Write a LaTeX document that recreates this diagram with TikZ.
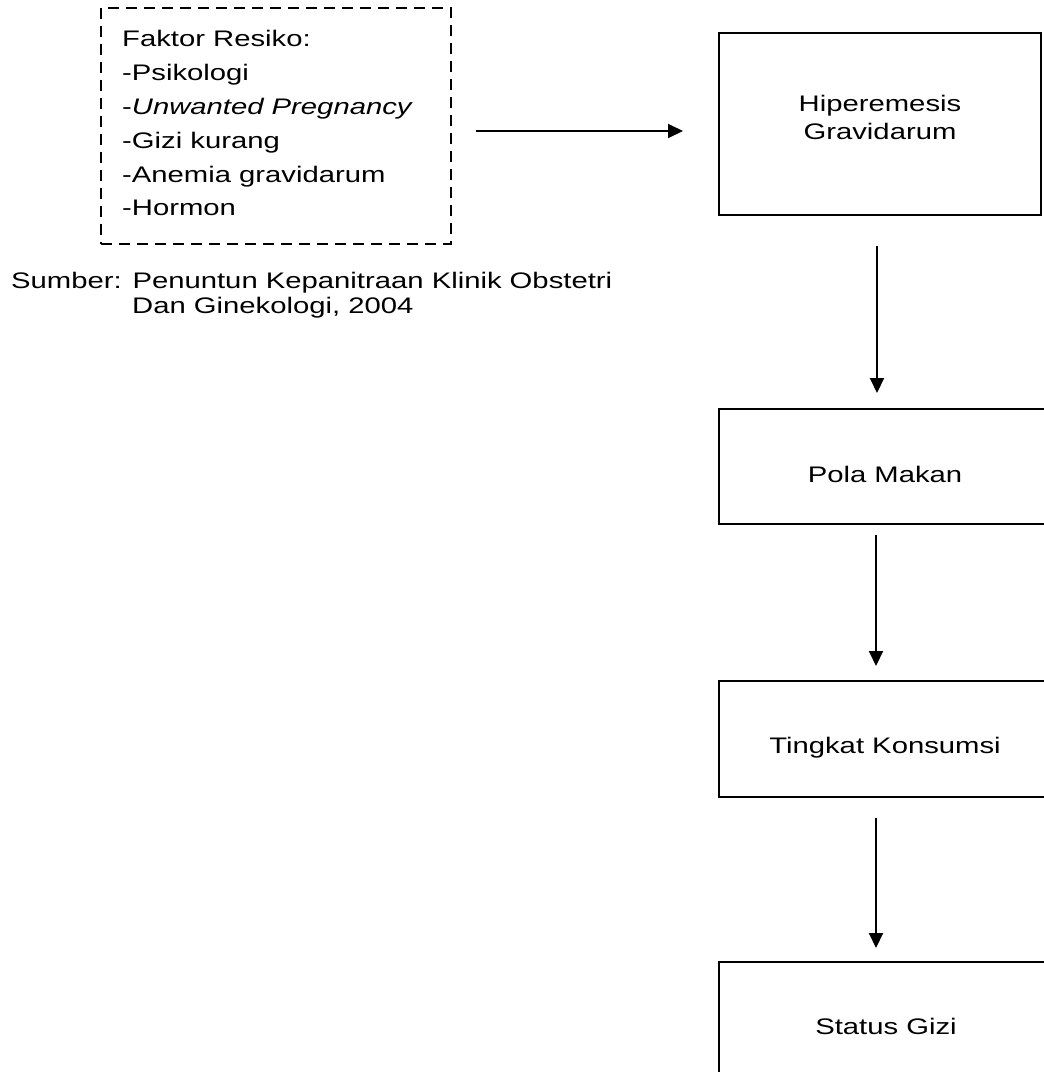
\documentclass[tikz,border=0pt]{standalone}
\usepackage{fontspec}
\setmainfont[FakeStretch=1.3]{Liberation Sans}
\usetikzlibrary{arrows.meta}
\begin{document}
\begin{tikzpicture}[x=1pt,y=-1pt,
  txt/.style={inner sep=0pt, font=\fontsize{22.5}{27}\selectfont},
  flowbox/.style={draw, line width=1.8pt, inner sep=0pt},
  riskbox/.style={draw, line width=1.8pt, dash pattern=on 11pt off 7pt, inner sep=0pt},
  conn/.style={line width=2pt, -{Triangle[length=15pt,width=14pt]}}]
\useasboundingbox (0,0) rectangle (1044,1072);
\clip (0,0) rectangle (1044,1072);
\fill[white] (0,0) rectangle (1044,1072);
% dashed risk box
\node[riskbox, minimum width=350pt, minimum height=236pt] (risk) at (276,126) {};
\node[txt, anchor=base west] (r1) at (122,46) {Faktor Resiko:};
\node[txt, anchor=base west] (r2) at (122,80) {-Psikologi};
\node[txt, anchor=base west] (r3) at (122,114) {-\textit{Unwanted Pregnancy}};
\node[txt, anchor=base west] (r4) at (122,148) {-Gizi kurang};
\node[txt, anchor=base west] (r5) at (122,182) {-Anemia gravidarum};
\node[txt, anchor=base west] (r6) at (122,215) {-Hormon};
% source
\node[txt, anchor=base west] (s1) at (11,288) {Sumber: Penuntun Kepanitraan Klinik Obstetri};
\node[txt, anchor=base west] (s2) at (132,313) {Dan Ginekologi, 2004};
% flow boxes
\node[flowbox, minimum width=322pt, minimum height=182pt] (hip) at (880,124) {};
\node[txt, align=center] (hipt) at (880,117) {Hiperemesis\\[1pt]Gravidarum};
\node[flowbox, minimum width=334pt, minimum height=115pt] (pola) at (886,466.5) {};
\node[txt, anchor=base] (polat) at (885,482) {Pola Makan};
\node[flowbox, minimum width=334pt, minimum height=116pt] (ting) at (886,739) {};
\node[txt, anchor=base] (tingt) at (885,753) {Tingkat Konsumsi};
\node[flowbox, minimum width=334pt, minimum height=116pt] (stat) at (886,1020) {};
\node[txt, anchor=base] (statt) at (886,1034) {Status Gizi};
% connectors
\coordinate (h1) at (476,131);
\coordinate (h2) at (683,131);
\draw[conn] (h1) -- (h2);
\coordinate (v1a) at (877,246);
\coordinate (v1b) at (877,393);
\draw[conn] (v1a) -- (v1b);
\coordinate (v2a) at (876,535);
\coordinate (v2b) at (876,666);
\draw[conn] (v2a) -- (v2b);
\coordinate (v3a) at (876,818);
\coordinate (v3b) at (876,948);
\draw[conn] (v3a) -- (v3b);
\end{tikzpicture}
\end{document}
